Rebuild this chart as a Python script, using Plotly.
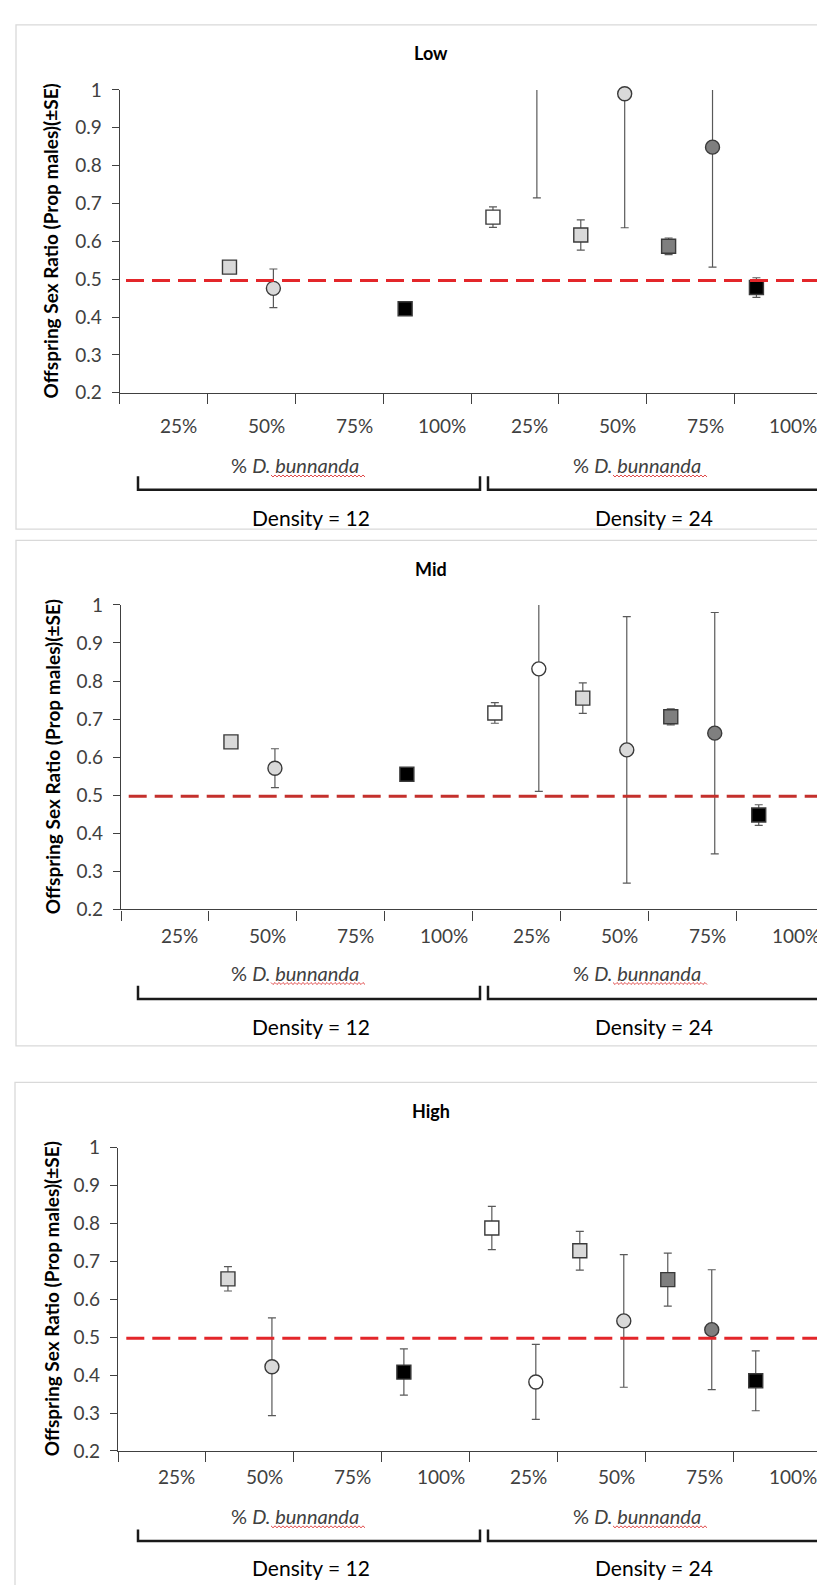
import plotly.graph_objects as go

W, H = 825, 1585

# ---------------- data ----------------
categories = ["25%", "50%", "75%", "100%"]
densities = ["Density = 12", "Density = 24"]
panel_titles = ["Low", "Mid", "High"]
y_tick_vals = [0.2, 0.3, 0.4, 0.5, 0.6, 0.7, 0.8, 0.9, 1.0]
y_tick_text = ["0.2", "0.3", "0.4", "0.5", "0.6", "0.7", "0.8", "0.9", "1"]
y_title = "Offspring Sex Ratio (Prop males)(±SE)"
reference_ratio = 0.497

# 8 slots each: Density 12 (25,50,75,100%), Density 24 (25,50,75,100%)
low_square = [None, 0.532, None, 0.422, 0.664, 0.617, 0.587, 0.478]
low_square_se = [None, 0.0, None, 0.0, 0.027, 0.040, 0.022, 0.026]
low_circle = [None, 0.476, None, None, 1.05, 0.990, 0.849, None]
low_circle_se = [None, 0.051, None, None, 0.335, 0.354, 0.317, None]

mid_square = [None, 0.640, None, 0.555, 0.716, 0.755, 0.706, 0.448]
mid_square_se = [None, 0.0, None, 0.0, 0.027, 0.040, 0.021, 0.027]
mid_circle = [None, 0.571, None, None, 0.832, 0.619, 0.663, None]
mid_circle_se = [None, 0.051, None, None, 0.322, 0.350, 0.317, None]

high_square = [None, 0.654, None, 0.408, 0.788, 0.728, 0.652, 0.385]
high_square_se = [None, 0.032, None, 0.061, 0.057, 0.051, 0.070, 0.079]
high_circle = [None, 0.422, None, None, 0.382, 0.543, 0.520, None]
high_circle_se = [None, 0.129, None, None, 0.099, 0.175, 0.158, None]

category_fill = ["#ffffff", "#d9d9d9", "#7f7f7f", "#000000"]

panel_data = [
    (low_square, low_square_se, low_circle, low_circle_se),
    (mid_square, mid_square_se, mid_circle, mid_circle_se),
    (high_square, high_square_se, high_circle, high_circle_se),
]

# ---------------- layout geometry (pixels) ----------------
panels = [
    dict(title=33, top=71, bottom=378.3, left=111.7, right=814.3, xlab=411.7, sub=451.7,
         br_top=463, br_y=476.7, dens=505, box_top=5, box_bottom=516.7, box_left=8,
         ytx=42, red="#e3262a", red_x0=118),
    dict(title=556.7, top=593.5, bottom=902.5, left=113, right=816.7, xlab=929, sub=966.7,
         br_top=980, br_y=993.3, dens=1021.7, box_top=528, box_bottom=1041, box_left=8,
         ytx=44, red="#c4302c", red_x0=120.7),
    dict(title=1106.7, top=1144.3, bottom=1452, left=110, right=813.7, xlab=1478, sub=1518,
         br_top=1531.7, br_y=1543.3, dens=1570, box_top=1078, box_bottom=1600, box_left=7,
         ytx=43, red="#e3262a", red_x0=118.3),
]


def px(x):
    return x / W


def py(y):
    return 1 - y / H


def squiggle(x0, x1, y, step=2.0, amp=1.0):
    pts = []
    x = x0
    k = 0
    while x <= x1:
        yy = y + (amp if k % 2 else -amp)
        pts.append(f"{px(x):.5f} {py(yy):.5f}")
        x += step
        k += 1
    return "M " + " L ".join(pts)


FONT = "Lato"
fig = go.Figure()
annotations = []
shapes = []
layout_axes = {}


def ann(**kw):
    base = dict(showarrow=False, xanchor="center", yanchor="middle")
    base.update(kw)
    annotations.append(base)


for i, (p, data, title) in enumerate(zip(panels, panel_data, panel_titles)):
    n = "" if i == 0 else str(i + 1)
    xa, ya = "x" + n, "y" + n
    sq, sq_se, ci, ci_se = data
    colors = [category_fill[k % 4] for k in range(8)]
    x_sq = [k + 0.25 for k in range(8)]
    x_ci = [k + 0.75 for k in range(8)]

    for xs, ys, es, sym in [(x_sq, sq, sq_se, "square"), (x_ci, ci, ci_se, "circle")]:
        # error bars (clipped to the plot area)
        fig.add_trace(go.Scatter(
            x=xs, y=ys, mode="markers", xaxis=xa, yaxis=ya, showlegend=False,
            marker=dict(size=1, color="rgba(0,0,0,0)"), cliponaxis=True,
            error_y=dict(type="data", array=es, visible=True, color="#595959",
                         thickness=1.2, width=4),
            hoverinfo="skip"))
        # markers (points above the axis maximum are not shown)
        ys_vis = [v if (v is not None and v <= 1) else None for v in ys]
        fig.add_trace(go.Scatter(
            x=xs, y=ys_vis, mode="markers", xaxis=xa, yaxis=ya, showlegend=False,
            cliponaxis=False,
            marker=dict(symbol=sym, size=14, color=colors,
                        line=dict(color="#3a3a3a", width=1.4))))

    layout_axes["xaxis" + n] = dict(
        domain=[px(p["left"]), px(p["right"])], range=[0, 8], anchor=ya,
        tickvals=list(range(9)), ticks="outside", ticklen=10, tickwidth=1.3,
        tickcolor="#404040", showticklabels=False, showline=True,
        linecolor="#404040", linewidth=1.3, showgrid=False, zeroline=False)
    layout_axes["yaxis" + n] = dict(
        domain=[py(p["bottom"]), py(p["top"])], range=[0.2, 1], anchor=xa,
        tickvals=y_tick_vals, ticktext=y_tick_text, ticks="outside", ticklen=7,
        tickwidth=1.3, tickcolor="#404040", showline=True, linecolor="#404040",
        linewidth=1.3, showgrid=False, zeroline=False, ticklabelstandoff=6,
        tickfont=dict(family=FONT, size=19, color="#404040"))

    # reference line at 0.5
    shapes.append(dict(type="line", xref="paper", yref=ya, x0=px(p["red_x0"]), x1=1.0,
                       y0=reference_ratio, y1=reference_ratio, layer="above",
                       line=dict(color=p["red"], width=3, dash="18px,8px")))

    # panel border
    shapes.append(dict(type="rect", xref="paper", yref="paper",
                       x0=px(p["box_left"]), x1=px(828), y0=py(p["box_bottom"]),
                       y1=py(p["box_top"]), line=dict(color="#d9d9d9", width=1.3),
                       layer="below"))

    # title
    ann(text="<b>" + title + "</b>", xref="paper", yref="paper",
        x=px(422.5), y=py(p["title"]), font=dict(family=FONT, size=18, color="#000000"))
    # y-axis title
    ann(text="<b>" + y_title + "</b>", xref="paper", yref="paper",
        x=px(p["ytx"]), y=py((p["top"] + p["bottom"]) / 2), textangle=-90,
        font=dict(family=FONT, size=19, color="#000000"))
    # category labels
    for k in range(8):
        ann(text=categories[k % 4], xref=xa, yref="paper", x=k + 0.67, y=py(p["xlab"]),
            font=dict(family=FONT, size=19, color="#404040"))
    # sub-axis labels, brackets, density labels
    for d, (cx_sub, cx_den, bx0, bx1, ux0, ux1) in enumerate(
            [(287, 302.6, 130, 472, 263, 357), (629, 646, 480, 822.5, 605, 699)]):
        ann(text="% <i>D. bunnanda</i>", xref="paper", yref="paper",
            x=px(cx_sub), y=py(p["sub"]), font=dict(family=FONT, size=20, color="#404040"))
        shapes.append(dict(type="path", xref="paper", yref="paper",
                           path=squiggle(ux0, ux1, p["sub"] + 11),
                           line=dict(color="#e04848", width=1)))
        ann(text=densities[d], xref="paper", yref="paper",
            x=px(cx_den), y=py(p["dens"]), font=dict(family=FONT, size=21, color="#000000"))
        shapes.append(dict(type="path", xref="paper", yref="paper",
                           path=(f"M {px(bx0)} {py(p['br_top'])} L {px(bx0)} {py(p['br_y'])} "
                                 f"L {px(bx1)} {py(p['br_y'])} L {px(bx1)} {py(p['br_top'])}"),
                           line=dict(color="#1a1a1a", width=2.5)))

fig.update_layout(
    width=W, height=H, autosize=False,
    margin=dict(l=0, r=0, t=0, b=0),
    paper_bgcolor="#ffffff", plot_bgcolor="#ffffff",
    showlegend=False, annotations=annotations, shapes=shapes,
    **layout_axes)

fig.write_html("out.html")
